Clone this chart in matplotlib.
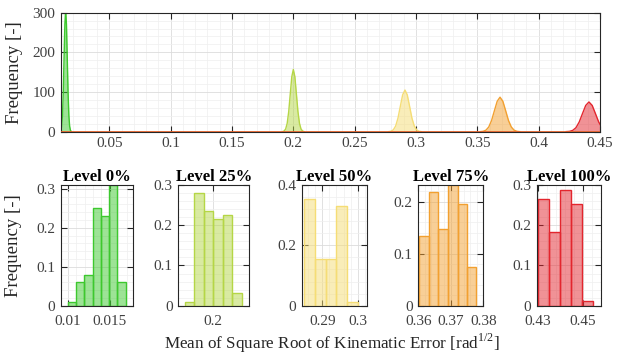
import matplotlib.pyplot as plt
from matplotlib.ticker import AutoMinorLocator

plt.rcParams['font.family'] = ['Liberation Serif', 'DejaVu Serif']
plt.rcParams['mathtext.fontset'] = 'custom'
plt.rcParams['mathtext.rm'] = 'Liberation Serif'

# Dati - curve di densita' (pannello superiore)
colors = ['#3DC82E', '#B5D646', '#F5DD75', '#F2A030', '#E3262E']

x_l0 = [0.00985, 0.0105, 0.01115, 0.0118, 0.01245, 0.0131, 0.01375, 0.0144,
        0.01505, 0.0157, 0.01635, 0.0170, 0.01765, 0.0183, 0.01895]
y_l0 = [0.7, 3.4, 13.5, 41.5, 99.7, 186.2, 270.9, 307,
        270.9, 186.2, 99.7, 41.5, 13.5, 3.4, 0.7]

x_l25 = [0.19125, 0.1925, 0.19375, 0.195, 0.19625, 0.1975, 0.19875, 0.2,
         0.20125, 0.2025, 0.20375, 0.205, 0.20625, 0.2075, 0.20875]
y_l25 = [0.3, 1.7, 6.9, 21.2, 51.0, 95.2, 138.6, 157,
         138.6, 95.2, 51.0, 21.2, 6.9, 1.7, 0.3]

x_l50 = [0.2777, 0.2796, 0.2815, 0.2834, 0.2853, 0.2872, 0.2891, 0.291,
         0.2929, 0.2948, 0.2967, 0.2986, 0.3005, 0.3024, 0.3043]
y_l50 = [0.2, 1.2, 4.6, 14.2, 34.1, 63.7, 92.7, 105,
         92.7, 63.7, 34.1, 14.2, 4.6, 1.2, 0.2]

x_l75 = [0.3524, 0.3547, 0.357, 0.3593, 0.3616, 0.3639, 0.3662, 0.3685,
         0.3708, 0.3731, 0.3754, 0.3777, 0.38, 0.3823, 0.3846]
y_l75 = [0.2, 1.0, 3.8, 11.8, 28.2, 52.8, 76.8, 87,
         76.8, 52.8, 28.2, 11.8, 3.8, 1.0, 0.2]

x_l100 = [0.42245, 0.4251, 0.42775, 0.4304, 0.43305, 0.4357, 0.43835, 0.441,
          0.44365, 0.4463, 0.44895, 0.4516, 0.45425]
y_l100 = [0.2, 0.8, 3.3, 10.1, 24.4, 45.5, 66.2, 75,
          66.2, 45.5, 24.4, 10.1, 3.3]

curves_x = [x_l0, x_l25, x_l50, x_l75, x_l100]
curves_y = [y_l0, y_l25, y_l50, y_l75, y_l100]

# Dati - istogrammi (pannelli inferiori)
titles = ['Level 0%', 'Level 25%', 'Level 50%', 'Level 75%', 'Level 100%']

edges_0 = [0.0100, 0.01098, 0.01196, 0.01294, 0.01392, 0.0149, 0.01588, 0.01686]
freq_0 = [0.01, 0.06, 0.08, 0.25, 0.23, 0.31, 0.06]

edges_25 = [0.1925, 0.195, 0.1975, 0.2, 0.2025, 0.205, 0.2075]
freq_25 = [0.01, 0.279, 0.236, 0.215, 0.225, 0.032]

edges_50 = [0.2848, 0.2879, 0.2910, 0.2940, 0.2971, 0.3002]
freq_50 = [0.352, 0.154, 0.154, 0.330, 0.012]

edges_75 = [0.3603, 0.3632, 0.3662, 0.3691, 0.3721, 0.3750, 0.3779]
freq_75 = [0.134, 0.219, 0.147, 0.232, 0.195, 0.074]

edges_100 = [0.4303, 0.4351, 0.4400, 0.4448, 0.4497, 0.4545]
freq_100 = [0.264, 0.184, 0.2875, 0.2527, 0.0116]

hist_edges = [edges_0, edges_25, edges_50, edges_75, edges_100]
hist_freq = [freq_0, freq_25, freq_50, freq_75, freq_100]

xlims = [(0.0092, 0.0177), (0.19084, 0.20942), (0.28418, 0.30254), (0.36, 0.38), (0.4296, 0.4580)]
ylims = [(0, 0.31), (0, 0.3), (0, 0.4), (0, 0.232), (0, 0.3)]
xticks = [[0.01, 0.015], [0.2], [0.29, 0.3], [0.36, 0.37, 0.38], [0.43, 0.45]]
yticks = [[0, 0.1, 0.2, 0.3], [0, 0.1, 0.2, 0.3], [0, 0.2, 0.4], [0, 0.1, 0.2], [0, 0.1, 0.2, 0.3]]

W, H = 629, 356
fig = plt.figure(figsize=(W / 100, H / 100), dpi=100)


def px_axes(x0, x1, y0, y1):
    return fig.add_axes([x0 / W, 1 - y1 / H, (x1 - x0) / W, (y1 - y0) / H])


def style(ax, xpad=4):
    ax.minorticks_on()
    ax.grid(True, which='major', color='#dcdcdc', linewidth=0.6)
    ax.grid(True, which='minor', color='#efefef', linewidth=0.5)
    ax.set_axisbelow(True)
    ax.tick_params(which='both', direction='in', top=True, right=True, colors='#262626',
                   labelsize=11, labelcolor='#404040')
    ax.tick_params(axis='x', pad=xpad)
    ax.tick_params(axis='y', pad=4)
    ax.tick_params(which='major', length=4)
    ax.tick_params(which='minor', length=0)
    for s in ax.spines.values():
        s.set_color('#262626')
        s.set_linewidth(0.8)


# Pannello superiore
ax = px_axes(61, 600, 12.7, 131.7)
style(ax)
for cx, cy, c in zip(curves_x, curves_y, colors):
    ax.fill_between(cx, cy, 0, color=c, alpha=0.5, linewidth=0)
    ax.plot(cx, cy, color=c, linewidth=1)
ax.axhline(0, color='#E0602A', linewidth=2, zorder=5)
ax.set_xlim(0.0106, 0.45)
ax.set_ylim(0, 300)
ax.set_xticks([0.05, 0.1, 0.15, 0.2, 0.25, 0.3, 0.35, 0.4, 0.45])
ax.set_xticklabels(['0.05', '0.1', '0.15', '0.2', '0.25', '0.3', '0.35', '0.4', '0.45'])
ax.set_yticks([0, 100, 200, 300])
ax.xaxis.set_minor_locator(AutoMinorLocator(5))
ax.yaxis.set_minor_locator(AutoMinorLocator(5))
ax.set_ylabel('Frequency [-]', fontsize=13.5, color='#262626')
ax.yaxis.set_label_coords(-0.07, 0.5)

# Pannelli inferiori
pos = [(61, 132.7), (178.3, 249.3), (301.7, 366.7), (418.3, 483.3), (536.7, 600.7)]
for i in range(5):
    a = px_axes(pos[i][0], pos[i][1], 185, 305.7)
    style(a, xpad=6.5)
    e = hist_edges[i]
    widths = [e[k + 1] - e[k] for k in range(len(e) - 1)]
    a.bar(e[:-1], hist_freq[i], width=widths, align='edge', color=colors[i], alpha=0.5,
          edgecolor='none')
    a.bar(e[:-1], hist_freq[i], width=widths, align='edge', fill=False, edgecolor=colors[i],
          linewidth=1.0)
    a.set_xlim(*xlims[i])
    a.set_ylim(*ylims[i])
    a.set_xticks(xticks[i])
    a.set_xticklabels([('%g' % v) for v in xticks[i]])
    a.set_yticks(yticks[i])
    a.set_yticklabels([('%g' % v) for v in yticks[i]])
    a.xaxis.set_minor_locator(AutoMinorLocator(5))
    a.yaxis.set_minor_locator(AutoMinorLocator(5))
    a.set_title(titles[i], fontsize=12, fontweight='bold', pad=3)
    if i == 0:
        a.set_ylabel('Frequency [-]', fontsize=13.5, color='#262626')
        a.yaxis.set_label_coords(-0.54, 0.5)

fig.text(332 / W, 1 - 343 / H, r'Mean of Square Root of Kinematic Error [rad$^{1/2}$]',
         ha='center', va='center', fontsize=12.3, color='#262626')

fig.savefig('out.png', dpi=100)
